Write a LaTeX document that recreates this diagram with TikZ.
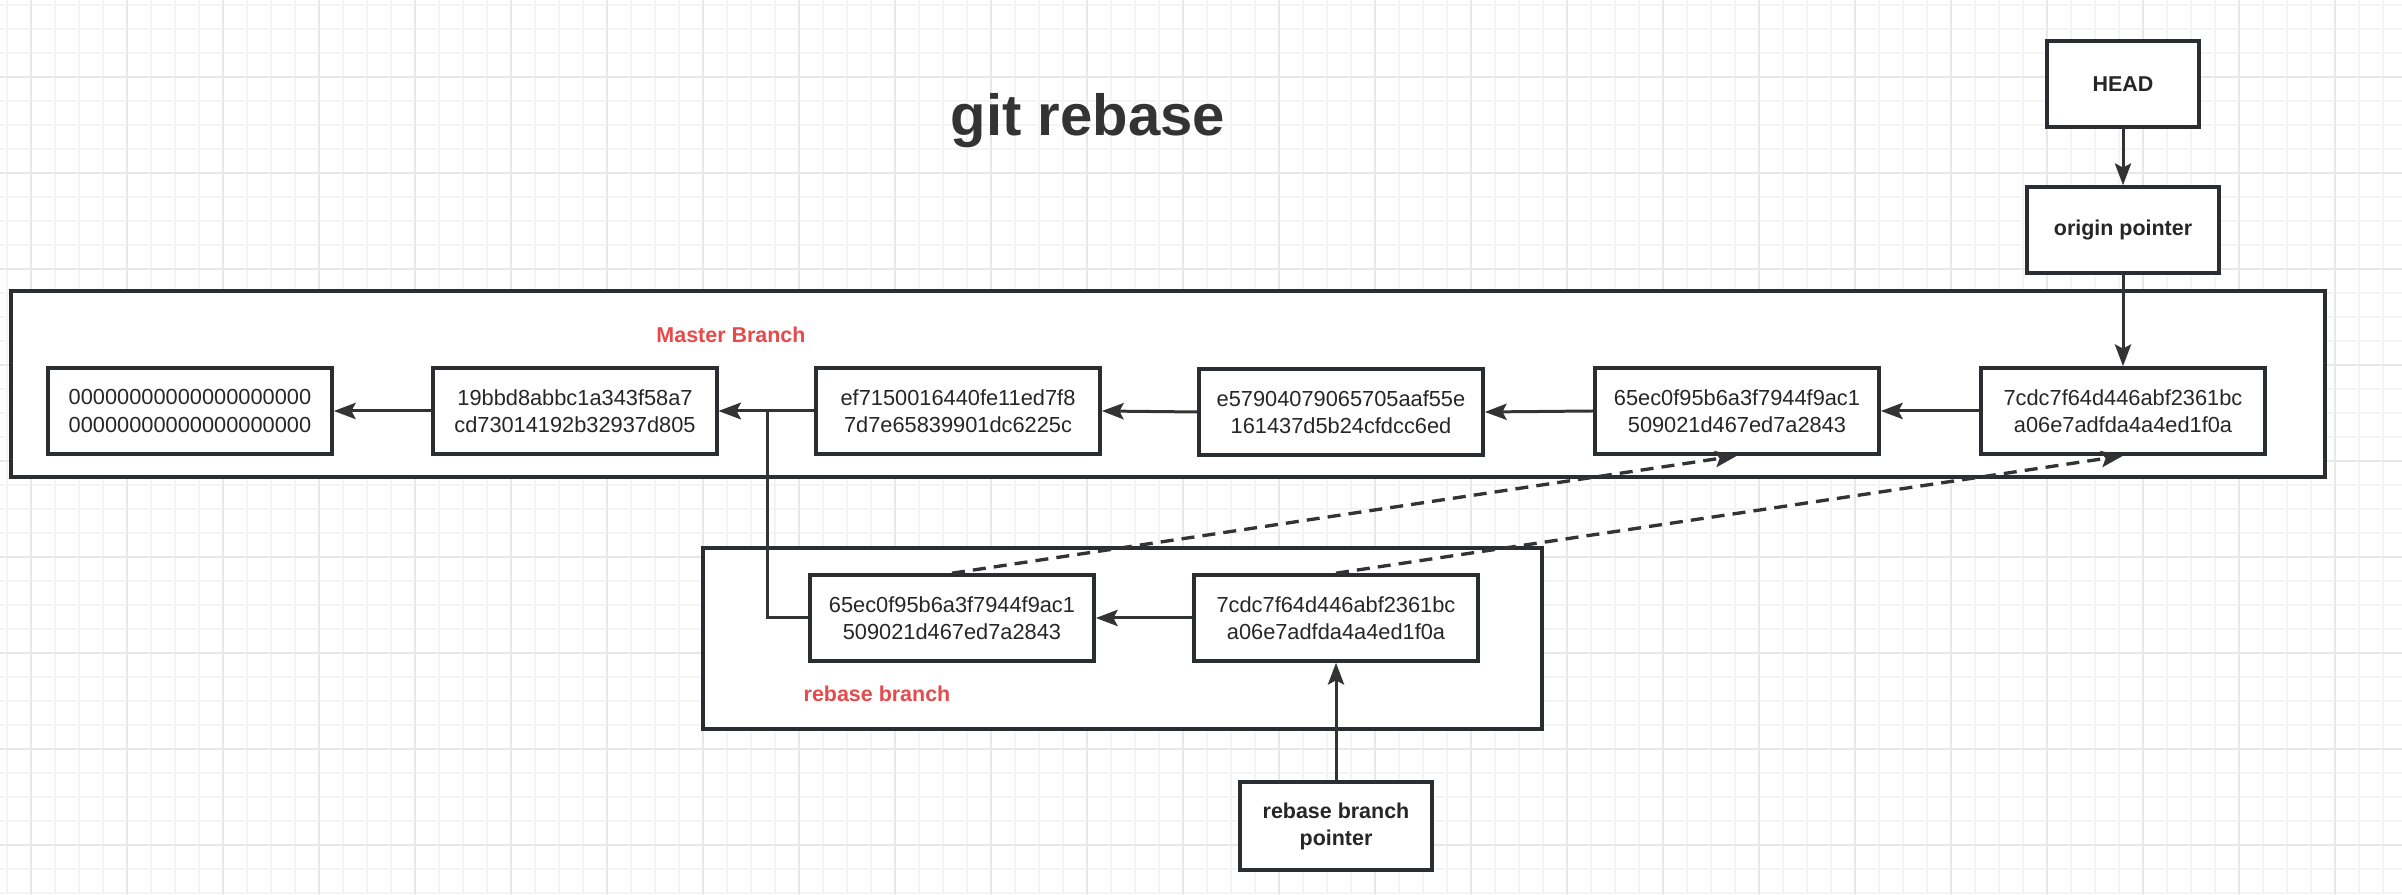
\documentclass[tikz,border=0pt]{standalone}
\usepackage{fontspec}
\setmainfont{Liberation Sans}
\usetikzlibrary{arrows.meta,positioning}

\definecolor{inkdark}{HTML}{333333}
\definecolor{boxline}{HTML}{2A2E32}
\definecolor{branchred}{HTML}{E64A4A}
\definecolor{gridminor}{HTML}{F4F4F4}
\definecolor{gridmajor}{HTML}{E8E8E8}

\tikzset{
	commit/.style={draw=boxline, line width=1pt, fill=white,
		minimum width=2.84cm, minimum height=0.86cm, inner sep=0pt,
		align=center, text=black!85, font=\fontsize{6.2pt}{7.7pt}\selectfont},
	pointer/.style={commit, font=\bfseries\fontsize{6.1pt}{7.7pt}\selectfont},
	branchframe/.style={draw=boxline, line width=1pt, fill=white},
	branchlabel/.style={anchor=base, text=branchred, font=\bfseries\fontsize{6.1pt}{7.3pt}\selectfont},
	link/.style={draw=inkdark, line width=0.85pt, -{Stealth[length=6.2pt,width=4.6pt,inset=1.2pt]}},
	rebased/.style={link, line width=0.95pt, dash pattern=on 3.7pt off 2.3pt},
	minorline/.style={draw=gridminor, line width=0.45pt},
	majorline/.style={draw=gridmajor, line width=0.55pt},
}

\begin{document}
\begin{tikzpicture}[x=0.01cm, y=-0.01cm]

% canvas %{{{2

	\def\pagew{2402}
	\def\pageh{895}

	\useasboundingbox (0,0) rectangle (\pagew,\pageh);
	\fill[white] (0,0) rectangle (\pagew,\pageh);

	\foreach \gx in {7,31,...,2383} { \draw[minorline] (\gx,0) -- (\gx,\pageh); }
	\foreach \gy in {5,29,...,893} { \draw[minorline] (0,\gy) -- (\pagew,\gy); }
	\foreach \gx in {31,127,...,2335} { \draw[majorline] (\gx,0) -- (\gx,\pageh); }
	\foreach \gy in {77,173,...,845} { \draw[majorline] (0,\gy) -- (\pagew,\gy); }

% title %{{{2

	\node[anchor=base, text=inkdark, font=\bfseries\fontsize{16.5pt}{19pt}\selectfont]
		(title) at (1088,136) {git rebase};

% branch frames %{{{2

	\coordinate (MA) at (11,291);
	\coordinate (MB) at (2325,477);
	\draw[branchframe] (MA) rectangle (MB);

	\coordinate (RA) at (703,548);
	\coordinate (RB) at (1542,729);
	\draw[branchframe] (RA) rectangle (RB);

	\node[branchlabel] (masterlabel) at (731,343) {Master Branch};
	\node[branchlabel] (rebaselabel) at (877,702) {rebase branch};

% master commits %{{{2

	\node[commit] (m1) at (190,411)  {00000000000000000000\\00000000000000000000};
	\node[commit] (m2) at (575,411)  {19bbd8abbc1a343f58a7\\cd73014192b32937d805};
	\node[commit] (m3) at (958,411)  {ef7150016440fe11ed7f8\\7d7e65839901dc6225c};
	\node[commit] (m4) at (1341,412) {e57904079065705aaf55e\\161437d5b24cfdcc6ed};
	\node[commit] (m5) at (1737,411) {65ec0f95b6a3f7944f9ac1\\509021d467ed7a2843};
	\node[commit] (m6) at (2123,411) {7cdc7f64d446abf2361bc\\a06e7adfda4a4ed1f0a};

% rebase commits %{{{2

	\node[commit] (r1) at (952,618)  {65ec0f95b6a3f7944f9ac1\\509021d467ed7a2843};
	\node[commit] (r2) at (1336,618) {7cdc7f64d446abf2361bc\\a06e7adfda4a4ed1f0a};

% pointers %{{{2

	\node[pointer, minimum width=1.52cm] (head) at (2123,84) {HEAD};
	\node[pointer, minimum width=1.92cm] (origin) at (2123,230) {origin pointer};
	\node[pointer, minimum width=1.92cm, minimum height=0.88cm] (rptr) at (1336,826)
		{rebase branch\\pointer};

% parent links %{{{2

	\draw[link] (m6.west) -- (m5.east);
	\draw[link] (m5.west) -- (m4.east);
	\draw[link] (m4.west) -- (m3.east);
	\draw[link] (m3.west) -- (m2.east);
	\draw[link] (m2.west) -- (m1.east);

	\draw[link] (r2.west) -- (r1.east);
	\draw[link] (r1.west) -- ++(-41,0) |- (m2.east);

% pointer links %{{{2

	\draw[link] (head.south) -- (origin.north);
	\draw[link] (origin.south) -- (m6.north);
	\draw[link] (rptr.north) -- (r2.south);

% rebased copies %{{{2

	\draw[rebased] (r1.north) -- (m5.south);
	\draw[rebased] (r2.north) -- (m6.south);

% closing %{{{2

\end{tikzpicture}
\end{document}
